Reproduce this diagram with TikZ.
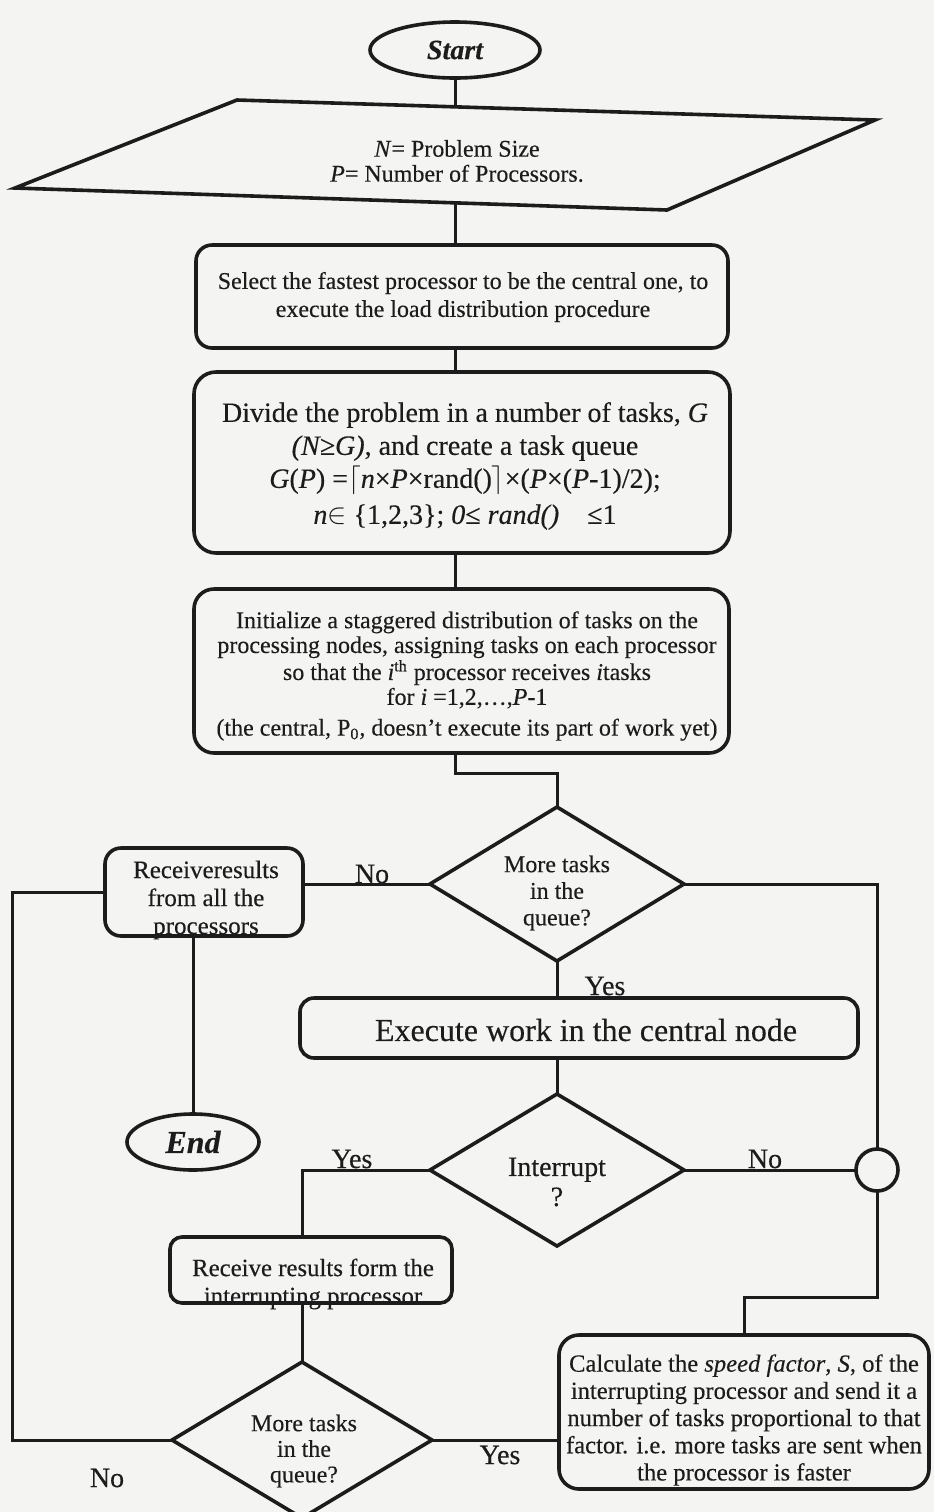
\documentclass[tikz,border=0pt]{standalone}
\usepackage{fontspec}
\setmainfont[FakeBold=0.3]{Liberation Serif}
\usetikzlibrary{shapes.geometric,fit}
\definecolor{ink}{HTML}{1C1C1C}
\definecolor{paper}{HTML}{F4F4F2}
\begin{document}
\begin{tikzpicture}[x=0.5pt,y=-0.5pt,
  outline/.style={draw=ink,line width=1.8pt,inner sep=0pt,outer sep=0pt},
  rbox/.style={outline,rectangle,rounded corners=#1},
  conn/.style={draw=ink,line width=1.5pt},
  txt/.style={text=ink,align=center,inner sep=0pt},
  fs/.style 2 args={font=\fontsize{#1}{#2}\selectfont},
  lbl/.style={txt,anchor=base,fs={14}{16}}]
\clip (0,0) rectangle (934,1512);
\fill[paper] (0,0) rectangle (934,1512);

% ---- terminal: Start
\node[outline,ellipse,minimum width=85pt,minimum height=28pt,
      text=ink,fs={14}{16}] (start) at (455,50) {\bfseries\itshape Start};

% ---- input parallelogram
\coordinate (pTL) at (237,100);
\coordinate (pTR) at (875,120);
\coordinate (pBR) at (667,210);
\coordinate (pBL) at (15,188);
\coordinate (pin)  at (455,107);
\coordinate (pout) at (455,203);
\draw[ink,line width=1.8pt,line join=miter] (pTL) -- (pTR) -- (pBR) -- (pBL) -- cycle;
\node[txt,fs={12}{12.5}] (tpara) at (457,161)
  {\textit{N}= Problem Size\\ \textit{P}= Number of Processors.};

% ---- process boxes
\node[txt,fs={12}{14}] (tselect) at (463,297)
  {Select the fastest processor to be the central one, to\\
   execute the load distribution procedure};
\node[rbox=8pt,fit={(196,245) (728,348)}] (select) {};

\node[txt,fs={14}{16.5}] (tdivide) at (465,466)
  {Divide the problem in a number of tasks, \textit{G}\\
   \textit{(N≥G)}, and create a task queue\\
   \textit{G}(\textit{P}) =$\lceil$\textit{n}×\textit{P}×rand()$\rceil$×(\textit{P}×(\textit{P}-1)/2);\\[1.5pt]
   \textit{n}$\in$ \{1,2,3\}; \textit{0}≤ \textit{rand()}\quad≤1};
\node[rbox=11pt,fit={(194,372) (730,553)}] (divide) {};

\node[txt,fs={12}{12.4}] (tinit) at (467,676)
  {Initialize a staggered distribution of tasks on the\\
   processing nodes, assigning tasks on each processor\\
   so that the \textit{i}\textsuperscript{th} processor receives \textit{i}tasks\\
   for \textit{i} =1,2,\ldots,\textit{P}-1\\[3pt]
   (the central, P\textsubscript{0}, doesn't execute its part of work yet)};
\node[rbox=10pt,fit={(194,589) (729,753)}] (init) {};

% ---- decision: more tasks in the queue (upper)
\node[outline,diamond,minimum width=127pt,minimum height=77pt] (q1) at (557,884) {};
\node[txt,fs={12}{13.3}] (tq1) at (557,893) {More tasks\\ in the\\ queue?};

% ---- gather results and finish
\node[txt,fs={12.5}{14}] (trecvall) at (206,900) {Receiveresults\\ from all the\\ processors};
\node[rbox=8pt,fit={(105,848) (303,936)}] (recvall) {};
\node[outline,ellipse,minimum width=66pt,minimum height=28pt,
      text=ink,fs={16}{18}] (end) at (193,1142) {\bfseries\itshape End};

% ---- work on the central node
\node[rbox=7pt,fit={(300,998) (858,1058)}] (exec) {};
\node[txt,fs={16}{18}] (texec) at (586,1030) {Execute work in the central node};

% ---- decision: interrupt
\node[outline,diamond,minimum width=127pt,minimum height=76pt] (q2) at (557,1170) {};
\node[txt,fs={14}{15}] (tq2) at (557,1182) {Interrupt\\ ?};

% ---- junction circle
\node[outline,circle,minimum size=21pt] (jn) at (877,1170) {};

% ---- results from the interrupting processor
\node[txt,fs={12.4}{14}] (trecv) at (313,1284) {Receive results form the\\ interrupting processor};
\node[rbox=6pt,fit={(170,1237) (452,1303)}] (recv) {};

% ---- decision: more tasks in the queue (lower)
\node[outline,diamond,minimum width=130pt,minimum height=78pt] (q3) at (302,1440) {};
\node[txt,fs={12}{12.8}] (tq3) at (304,1451) {More tasks\\ in the\\ queue?};

% ---- speed factor
\node[txt,fs={12.3}{13.6}] (tcalc) at (744,1420)
  {Calculate the \textit{speed factor}, \textit{S}, of the\\
   interrupting processor and send it a\\
   number of tasks proportional to that\\
   factor. i.e. more tasks are sent when\\
   the processor is faster};
\node[rbox=10pt,fit={(559,1335) (929,1489)}] (calc) {};

% ---- bend points of the connectors
\coordinate (kink) at (455,773);
\coordinate (lb)   at (12,1440);
\coordinate (turn) at (877,1297);

% ---- connectors
\draw[conn] (start.south) -- (pin);
\draw[conn] (pout) -- (pout |- select.north);
\draw[conn] (select.south -| pout) -- (divide.north -| pout);
\draw[conn] (divide.south -| pout) -- (init.north -| pout);
\draw[conn] (init.south -| kink) -- (kink) -| (q1.north);
\draw[conn] (q1.west) -- (q1.west -| recvall.east);
\draw[conn] (recvall.west) -| (lb) -- (q3.west);
\draw[conn] (recvall.south -| end.north) -- (end.north);
\draw[conn] (q1.east) -| (jn.north);
\draw[conn] (q1.south) -- (q1.south |- exec.north);
\draw[conn] (q2.north |- exec.south) -- (q2.north);
\draw[conn] (q2.east) -- (jn.west);
\draw[conn] (q2.west) -| (recv.north -| q3.north);
\draw[conn] (recv.south -| q3.north) -- (q3.north);
\draw[conn] (jn.south) -- (turn) -| (calc.north);
\draw[conn] (q3.east) -- (q3.east -| calc.west);

% ---- branch labels
\node[lbl] (no1)  at (372,883)  {No};
\node[lbl] (yes1) at (605,995)  {Yes};
\node[lbl] (no2)  at (765,1168) {No};
\node[lbl] (yes2) at (352,1168) {Yes};
\node[txt,fs={14}{16}] (no3)  at (107,1478) {No};
\node[txt,fs={14}{16}] (yes3) at (500,1455) {Yes};
\end{tikzpicture}
\end{document}
